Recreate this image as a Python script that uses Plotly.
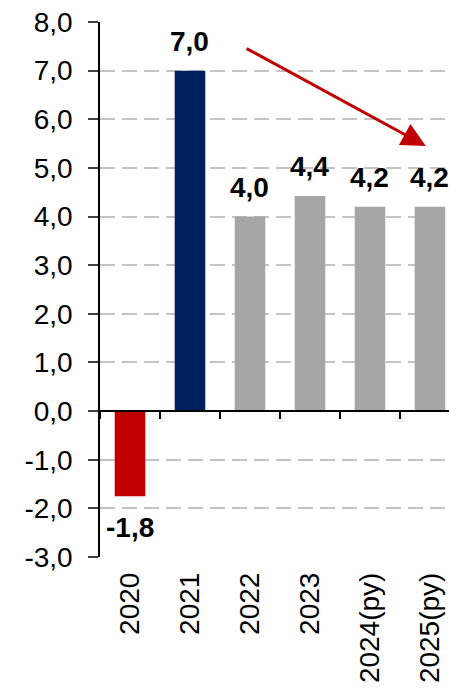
import plotly.graph_objects as go

categories = ["2020", "2021", "2022", "2023", "2024(py)", "2025(py)"]
values = [-1.75, 7.0, 4.0, 4.42, 4.2, 4.2]
labels = ["-1,8", "7,0", "4,0", "4,4", "4,2", "4,2"]
colors = ["#c00000", "#002060", "#a6a6a6", "#a6a6a6", "#a6a6a6", "#a6a6a6"]
y_ticks = [-3, -2, -1, 0, 1, 2, 3, 4, 5, 6, 7, 8]
y_ticktext = ["-3,0", "-2,0", "-1,0", "0,0", "1,0", "2,0", "3,0", "4,0", "5,0", "6,0", "7,0", "8,0"]
arrow_start = (1.92, 7.47)
arrow_end = (4.93, 5.45)

YMIN, YMAX = -3, 8
XR = [-0.5, 5.317]
FONT = "Liberation Sans, Arial, sans-serif"
FS = 28

fig = go.Figure()
fig.add_trace(go.Bar(x=categories, y=values, marker=dict(color=colors, line=dict(width=0)),
                     width=0.51, hoverinfo="skip", showlegend=False))
fig.add_trace(go.Scatter(x=categories, y=values, xaxis="x2", mode="markers",
                         marker=dict(opacity=0), hoverinfo="skip", showlegend=False))

for i, (v, t) in enumerate(zip(values, labels)):
    fig.add_annotation(x=i, y=v, text="<b>%s</b>" % t, showarrow=False,
                       xref="x", yref="y",
                       yanchor="bottom" if v >= 0 else "top",
                       yshift=12 if v >= 0 else -14,
                       font=dict(family=FONT, size=FS, color="black"))

fig.add_annotation(x=arrow_end[0], y=arrow_end[1], ax=arrow_start[0], ay=arrow_start[1],
                   xref="x", yref="y", axref="x", ayref="y", text="", showarrow=True,
                   arrowhead=2, arrowsize=1.6, arrowwidth=3, arrowcolor="#c00000")

fig.update_layout(
    width=449, height=694,
    margin=dict(l=100, r=0, t=22, b=137),
    paper_bgcolor="white", plot_bgcolor="white",
    font=dict(family=FONT, size=FS, color="black"),
    bargap=0.49,
    xaxis=dict(type="category", categoryorder="array", categoryarray=categories,
               range=XR, showline=False, ticks="", showgrid=False, zeroline=False,
               tickangle=-90, tickfont=dict(family=FONT, size=FS, color="black"),
               ticklabelstandoff=9, fixedrange=True),
    xaxis2=dict(type="category", categoryorder="array", categoryarray=categories,
                range=XR, overlaying="x", anchor="free",
                position=(0 - YMIN) / (YMAX - YMIN),
                showline=True, linecolor="black", linewidth=1.5,
                ticks="outside", tickson="boundaries", ticklen=7, tickwidth=1.5,
                tickcolor="black", showticklabels=False, showgrid=False, zeroline=False),
    yaxis=dict(range=[YMIN, YMAX], tickvals=y_ticks, ticktext=y_ticktext,
               showline=True, linecolor="black", linewidth=1.5,
               ticks="outside", ticklen=10, tickwidth=1.5, tickcolor="#404040",
               showgrid=True, gridcolor="#c4c4c4", gridwidth=2, griddash="15px,7px",
               zeroline=False, tickfont=dict(family=FONT, size=FS, color="black"),
               ticklabelstandoff=10),
)

fig.write_html("out.html", config={"displayModeBar": False},
               post_script="document.body.style.margin='0';")
